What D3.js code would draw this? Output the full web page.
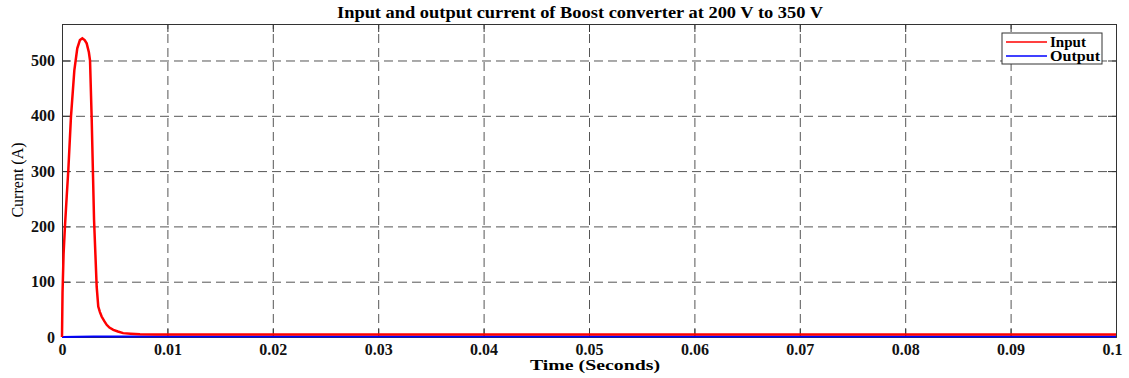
<!DOCTYPE html>
<html lang="en">

<head>
	<meta charset="UTF-8">
	<title>Boost converter current</title>
	<style type="text/css">
		body { margin: 0; background: #fff; }
		text { font-family: "Liberation Serif", "Times New Roman", serif; }
		.axis text { font-size: 16px; font-weight: bold; fill: #111; }
		.axis path, .axis line { stroke: #333; }
		.grid line { stroke: #555; stroke-dasharray: 9, 5; }
		.grid path { display: none; }
	</style>
</head>

<body>
	<div id="chart"></div>

	<script src="https://d3js.org/d3.v7.min.js"></script>
	<script>
		// input current (red)
		var inputTime = [0, 0.00005, 0.00015, 0.00028, 0.00045, 0.0006, 0.00085, 0.00117, 0.00145, 0.0017, 0.00193,
			0.00215, 0.00234, 0.00255, 0.00266, 0.00282, 0.00304, 0.00329, 0.00344, 0.0036, 0.00376, 0.004,
			0.00424, 0.0045, 0.00487, 0.0053, 0.0058, 0.0065, 0.0074, 0.009, 0.02, 0.05, 0.1];
		var inputCurrent = [0, 80, 150, 200, 255, 302, 398, 482, 522, 537, 540,
			537, 531, 515, 500, 392, 212, 91, 55, 45, 37, 29,
			22, 17, 13, 10, 7, 6, 5, 4.7, 4.7, 4.7, 4.7];

		// output current (blue)
		var outputTime = [0, 0.0014, 0.003, 0.006, 0.01, 0.05, 0.1];
		var outputCurrent = [0, 0.5, 1, 1, 1, 1, 1];

		var xTicks = [0, 0.01, 0.02, 0.03, 0.04, 0.05, 0.06, 0.07, 0.08, 0.09, 0.1];
		var yTicks = [0, 100, 200, 300, 400, 500];

		var margin = { top: 24, right: 13, bottom: 41, left: 62 }
		var width = 1129 - margin.left - margin.right
		var height = 378 - margin.top - margin.bottom;

		var xScale = d3.scaleLinear()
			.domain([0, 0.1])
			.range([0, width]);

		var yScale = d3.scaleLinear()
			.domain([0, 566])
			.range([height, 0]);

		var svg = d3.select('#chart')
			.append('svg')
			.attr('width', 1129)
			.attr('height', 378)
			.append('g')
			.attr('transform', `translate(${margin.left}, ${margin.top})`);

		// dashed grid
		svg.append('g')
			.attr('class', 'grid')
			.attr('transform', `translate(0, ${height})`)
			.call(d3.axisBottom(xScale).tickValues(xTicks.slice(1, -1)).tickSize(-height).tickFormat(''));

		svg.append('g')
			.attr('class', 'grid')
			.call(d3.axisLeft(yScale).tickValues(yTicks.slice(1)).tickSize(-width).tickFormat(''));

		// axes, ticks pointing in
		var fmtX = d3.format('~g');
		svg.append('g')
			.attr('class', 'x axis')
			.attr('transform', `translate(0, ${height})`)
			.call(d3.axisBottom(xScale).tickValues(xTicks).tickSize(-8).tickPadding(7).tickFormat(fmtX))
			.selectAll('text')
			.attr('dx', (d) => d === 0.1 ? -4 : 0);

		svg.append('g')
			.attr('class', 'y axis')
			.call(d3.axisLeft(yScale).tickValues(yTicks).tickSize(-8).tickPadding(7));

		svg.append('g')
			.attr('class', 'axis')
			.call(d3.axisTop(xScale).tickValues(xTicks).tickSize(-8).tickFormat(''));

		svg.append('g')
			.attr('class', 'axis')
			.attr('transform', `translate(${width}, 0)`)
			.call(d3.axisRight(yScale).tickValues(yTicks).tickSize(-8).tickFormat(''));

		var lineGen = d3.line()
			.x((d) => xScale(d[0]))
			.y((d) => yScale(d[1]));

		svg.append('path')
			.datum(outputTime.map((t, i) => [t, outputCurrent[i]]))
			.attr('d', lineGen)
			.attr('fill', 'none')
			.attr('stroke', '#0000ff')
			.attr('stroke-width', 2);

		svg.append('path')
			.datum(inputTime.map((t, i) => [t, inputCurrent[i]]))
			.attr('d', lineGen)
			.attr('fill', 'none')
			.attr('stroke', '#ff0000')
			.attr('stroke-width', 2.5);

		// legend (box at x 1002..1102, y 33..65 in page pixels)
		var legend = d3.select('svg').append('g')
			.attr('transform', 'translate(1002, 33)');
		legend.append('rect')
			.attr('width', 100).attr('height', 31)
			.attr('fill', '#fff').attr('stroke', '#333');
		[['Input', '#ff0000', 36], ['Output', '#0000ff', 50]].forEach((d, i) => {
			var y = 9 + i * 14;
			legend.append('line')
				.attr('x1', 4).attr('x2', 45).attr('y1', y).attr('y2', y)
				.attr('stroke', d[1]).attr('stroke-width', 1.5);
			legend.append('text')
				.attr('x', 48).attr('y', y + 5)
				.attr('textLength', d[2]).attr('lengthAdjust', 'spacingAndGlyphs')
				.style('font-size', '14px').style('font-weight', 'bold')
				.text(d[0]);
		});

		// title and axis labels
		d3.select('svg').append('text')
			.attr('x', 580).attr('y', 18)
			.attr('text-anchor', 'middle')
			.attr('textLength', 486).attr('lengthAdjust', 'spacingAndGlyphs')
			.style('font-size', '17px').style('font-weight', 'bold')
			.text('Input and output current of Boost converter at 200 V to 350 V');

		d3.select('svg').append('text')
			.attr('x', 595).attr('y', 370)
			.attr('text-anchor', 'middle')
			.attr('textLength', 130).attr('lengthAdjust', 'spacingAndGlyphs')
			.style('font-size', '15px').style('font-weight', 'bold')
			.text('Time (Seconds)');

		d3.select('svg').append('text')
			.attr('transform', `translate(23, 180) rotate(-90)`)
			.attr('text-anchor', 'middle')
			.style('font-size', '16px')
			.text('Current (A)');
	</script>
</body>

</html>
